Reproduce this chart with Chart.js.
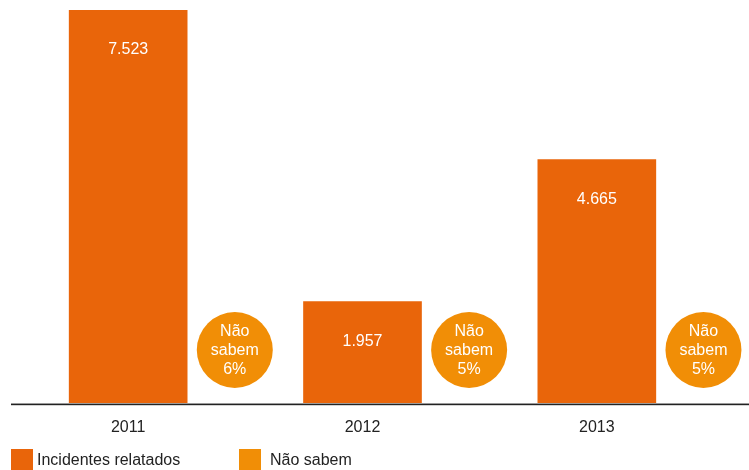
<!DOCTYPE html>
<html>
<head>
<meta charset="utf-8">
<script src="https://cdn.jsdelivr.net/npm/chart.js@4"></script>
<style>
  html, body { margin: 0; padding: 0; background: #fff; }
  #wrap { width: 749px; height: 470px; position: relative; }
</style>
</head>
<body>
<div id="wrap"><canvas id="c" width="749" height="470"></canvas></div>
<script>
const years = ['2011', '2012', '2013'];
const incidentes = [7523, 1957, 4665];
const naoSabemPct = [6, 5, 5];
const seriesNames = ['Incidentes relatados', 'Não sabem'];

const barColor = '#E9650A';
const circleColor = '#F18E06';
const fontFamily = '"Liberation Sans", Arial, Helvetica, sans-serif';

const fmt = v => v.toLocaleString('de-DE');

// Value labels, "Não sabem" badges, the baseline and the legend
const extras = {
  id: 'extras',
  afterDatasetsDraw(chart) {
    const ctx = chart.ctx;
    const area = chart.chartArea;
    const meta = chart.getDatasetMeta(0);
    const xs = chart.scales.x;
    const step = xs.getPixelForValue(1) - xs.getPixelForValue(0);

    ctx.save();
    ctx.textAlign = 'center';
    ctx.textBaseline = 'middle';
    meta.data.forEach((bar, i) => {
      // value inside the bar
      ctx.fillStyle = '#fff';
      ctx.font = '16px ' + fontFamily;
      ctx.fillText(fmt(incidentes[i]), bar.x, bar.y + 40);

      // circle badge to the right of the bar
      const cx = bar.x + step * 0.455;
      const cy = area.bottom - 54;
      ctx.beginPath();
      ctx.arc(cx, cy, 38, 0, Math.PI * 2);
      ctx.fillStyle = circleColor;
      ctx.fill();
      ctx.fillStyle = '#fff';
      ctx.font = '16px ' + fontFamily;
      ctx.fillText('Não', cx, cy - 18);
      ctx.fillText('sabem', cx, cy + 1);
      ctx.fillText(naoSabemPct[i] + '%', cx, cy + 20);
    });

    // baseline
    ctx.fillStyle = '#9a9a9a';
    ctx.fillRect(area.left, area.bottom - 1, chart.width - area.left, 1);
    ctx.fillStyle = '#222';
    ctx.fillRect(area.left, area.bottom, chart.width - area.left, 1.2);

    // legend
    const ly = 449;
    const items = [
      { x: 11, gap: 26, color: barColor, text: seriesNames[0] },
      { x: 239, gap: 31, color: circleColor, text: seriesNames[1] }
    ];
    ctx.textAlign = 'left';
    ctx.textBaseline = 'middle';
    ctx.font = '16px ' + fontFamily;
    items.forEach(it => {
      ctx.fillStyle = it.color;
      ctx.fillRect(it.x, ly, 22, 21);
      ctx.fillStyle = '#222';
      ctx.fillText(it.text, it.x + it.gap, ly + 12);
    });
    ctx.restore();
  }
};

new Chart(document.getElementById('c'), {
  type: 'bar',
  data: {
    labels: years,
    datasets: [{
      label: seriesNames[0],
      data: incidentes,
      backgroundColor: barColor,
      borderWidth: 0,
      barThickness: 118
    }]
  },
  options: {
    responsive: false,
    animation: false,
    events: [],
    layout: { padding: { left: 11, right: 35, top: 10, bottom: 0 } },
    plugins: {
      legend: { display: false },
      tooltip: { enabled: false }
    },
    scales: {
      x: {
        grid: { display: false, drawTicks: false },
        border: { display: false },
        ticks: {
          color: '#222',
          padding: 14,
          font: { family: fontFamily, size: 16 }
        },
        afterFit(s) { s.height = 66; }
      },
      y: {
        display: false,
        min: 0,
        max: Math.max(...incidentes)
      }
    }
  },
  plugins: [extras]
});
</script>
</body>
</html>
